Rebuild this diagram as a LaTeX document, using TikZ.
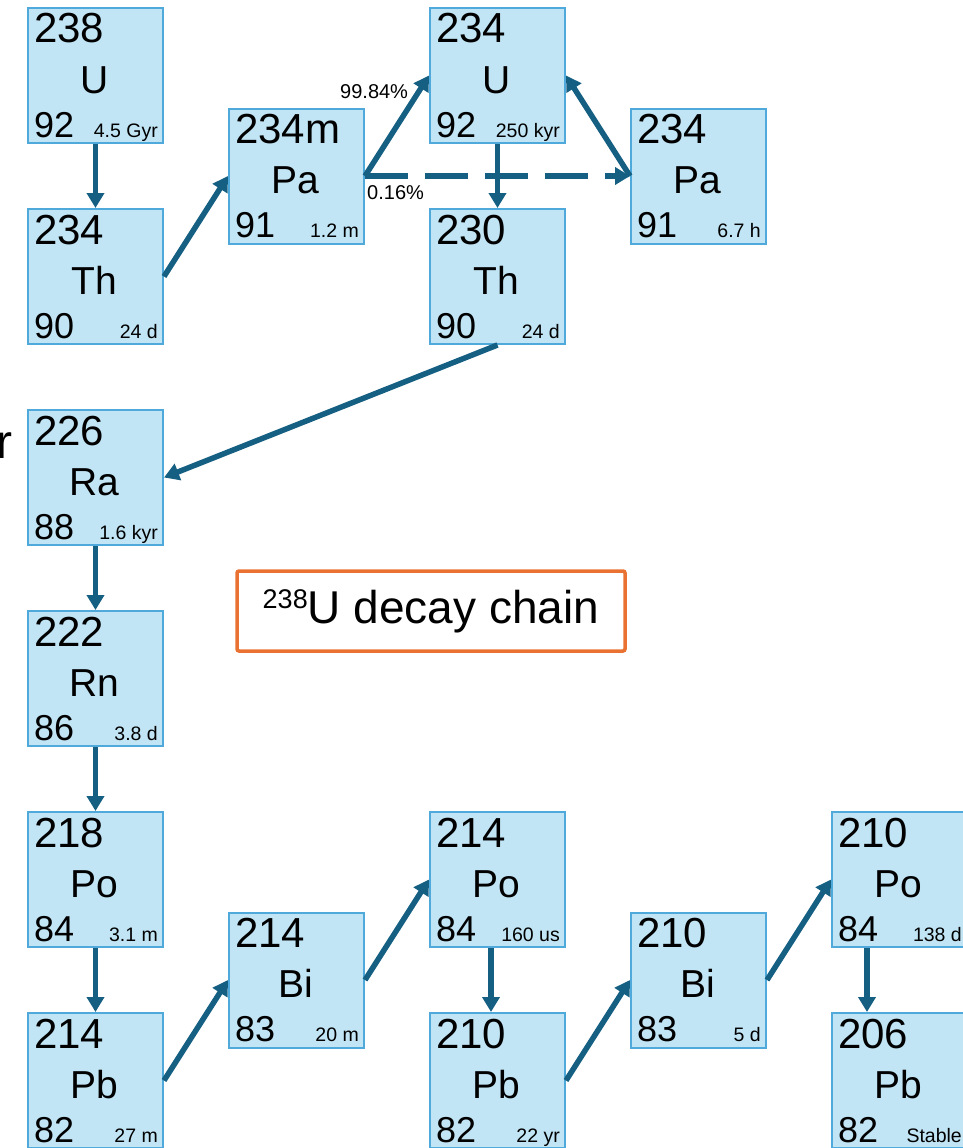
\documentclass[tikz,border=0pt]{standalone}
\usepackage{fontspec}
\setmainfont{Liberation Sans}
\usetikzlibrary{arrows.meta,calc}

\definecolor{isofill}{HTML}{C1E5F5}
\definecolor{isoline}{HTML}{4FA9DA}
\definecolor{decay}{HTML}{156082}
\definecolor{accentorange}{HTML}{E97132}

\tikzset{
  isobox/.style={draw=isoline, fill=isofill, line width=2pt,
    minimum width=135pt, minimum height=135pt, inner sep=0pt, anchor=north west},
  masstxt/.style={anchor=base west, inner sep=0pt, font=\fontsize{42}{42}\selectfont},
  symtxt/.style={anchor=base, inner sep=0pt, font=\fontsize{39}{39}\selectfont},
  ztxt/.style={anchor=base west, inner sep=0pt, font=\fontsize{36}{36}\selectfont},
  halftxt/.style={anchor=base east, inner sep=0pt, font=\fontsize{19.5}{19.5}\selectfont},
  pcttxt/.style={anchor=base west, inner sep=0pt, font=\fontsize{20}{20}\selectfont},
  decayarrow/.style={draw=decay, line width=5.5pt,
    -{Triangle[length=15pt,width=17pt]}},
  titlebox/.style={draw=accentorange, line width=3.5pt, rounded corners=2pt,
    minimum width=388pt, minimum height=80pt, inner sep=0pt},
}

% one nuclide tile: name, column, row, mass number, symbol, Z, half-life
\newcommand\nuclide[7]{%
  \node[isobox] (#1) at ({27+201*#2},{7+100.5*#3}) {};
  \node[masstxt] (#1-mass) at ($(#1.north west)+(7,36)$) {#4};
  \node[symtxt]  (#1-sym)  at ($(#1.north west)+(67.5,86)$) {#5};
  \node[ztxt]    (#1-z)    at ($(#1.north west)+(7,130)$) {#6};
  \node[halftxt] (#1-half) at ($(#1.north west)+(131,130)$) {#7};
}

\begin{document}
\begin{tikzpicture}[x=1pt,y=-1pt]
  \useasboundingbox (0,0) rectangle (963,1148);
  \clip (0,0) rectangle (963,1148);

  % left-edge lettering
  \node[anchor=base west, inner sep=0pt, font=\fontsize{48}{48}\selectfont]
    (edge-r) at (-4,458) {r};

  % nuclides
  \nuclide{u238}{0}{0}{238}{U}{92}{4.5 Gyr}
  \nuclide{th234}{0}{2}{234}{Th}{90}{24 d}
  \nuclide{pa234m}{1}{1}{234m}{Pa}{91}{1.2 m}
  \nuclide{u234}{2}{0}{234}{U}{92}{250 kyr}
  \nuclide{pa234}{3}{1}{234}{Pa}{91}{6.7 h}
  \nuclide{th230}{2}{2}{230}{Th}{90}{24 d}
  \nuclide{ra226}{0}{4}{226}{Ra}{88}{1.6 kyr}
  \nuclide{rn222}{0}{6}{222}{Rn}{86}{3.8 d}
  \nuclide{po218}{0}{8}{218}{Po}{84}{3.1 m}
  \nuclide{pb214}{0}{10}{214}{Pb}{82}{27 m}
  \nuclide{bi214}{1}{9}{214}{Bi}{83}{20 m}
  \nuclide{po214}{2}{8}{214}{Po}{84}{160 us}
  \nuclide{pb210}{2}{10}{210}{Pb}{82}{22 yr}
  \nuclide{bi210}{3}{9}{210}{Bi}{83}{5 d}
  \nuclide{po210}{4}{8}{210}{Po}{84}{138 d}
  \nuclide{pb206}{4}{10}{206}{Pb}{82}{Stable}

  % decays
  \draw[decayarrow] (u238.south) -- (th234.north);
  \draw[decayarrow] (th234.east) -- (pa234m.west);
  \draw[decayarrow] (pa234m.east) -- (u234.west);
  \draw[decayarrow, dash pattern=on 43pt off 17pt] (pa234m.east) -- (pa234.west);
  \draw[decayarrow] (pa234.west) -- (u234.east);
  \draw[decayarrow] (u234.south) -- (th230.north);
  \draw[decayarrow] (th230.south) -- (ra226.east);
  \draw[decayarrow] (ra226.south) -- (rn222.north);
  \draw[decayarrow] (rn222.south) -- (po218.north);
  \draw[decayarrow] (po218.south) -- (pb214.north);
  \draw[decayarrow] (pb214.east) -- (bi214.west);
  \draw[decayarrow] (bi214.east) -- (po214.west);
  \draw[decayarrow] ([xshift=62pt]po214.south west) -- ([xshift=62pt]pb210.north west);
  \draw[decayarrow] (pb210.east) -- (bi210.west);
  \draw[decayarrow] (bi210.east) -- (po210.west);
  \draw[decayarrow] ([xshift=36pt]po210.south west) -- ([xshift=36pt]pb206.north west);

  % branching ratios
  \node[pcttxt] (br-main) at (340,98) {99.84\%};
  \node[pcttxt] (br-minor) at (367,199) {0.16\%};

  % caption
  \node[titlebox] (title) at (431,611)
    {\raisebox{15pt}{\fontsize{27}{27}\selectfont 238}\fontsize{46}{46}\selectfont U decay chain};
\end{tikzpicture}
\end{document}
